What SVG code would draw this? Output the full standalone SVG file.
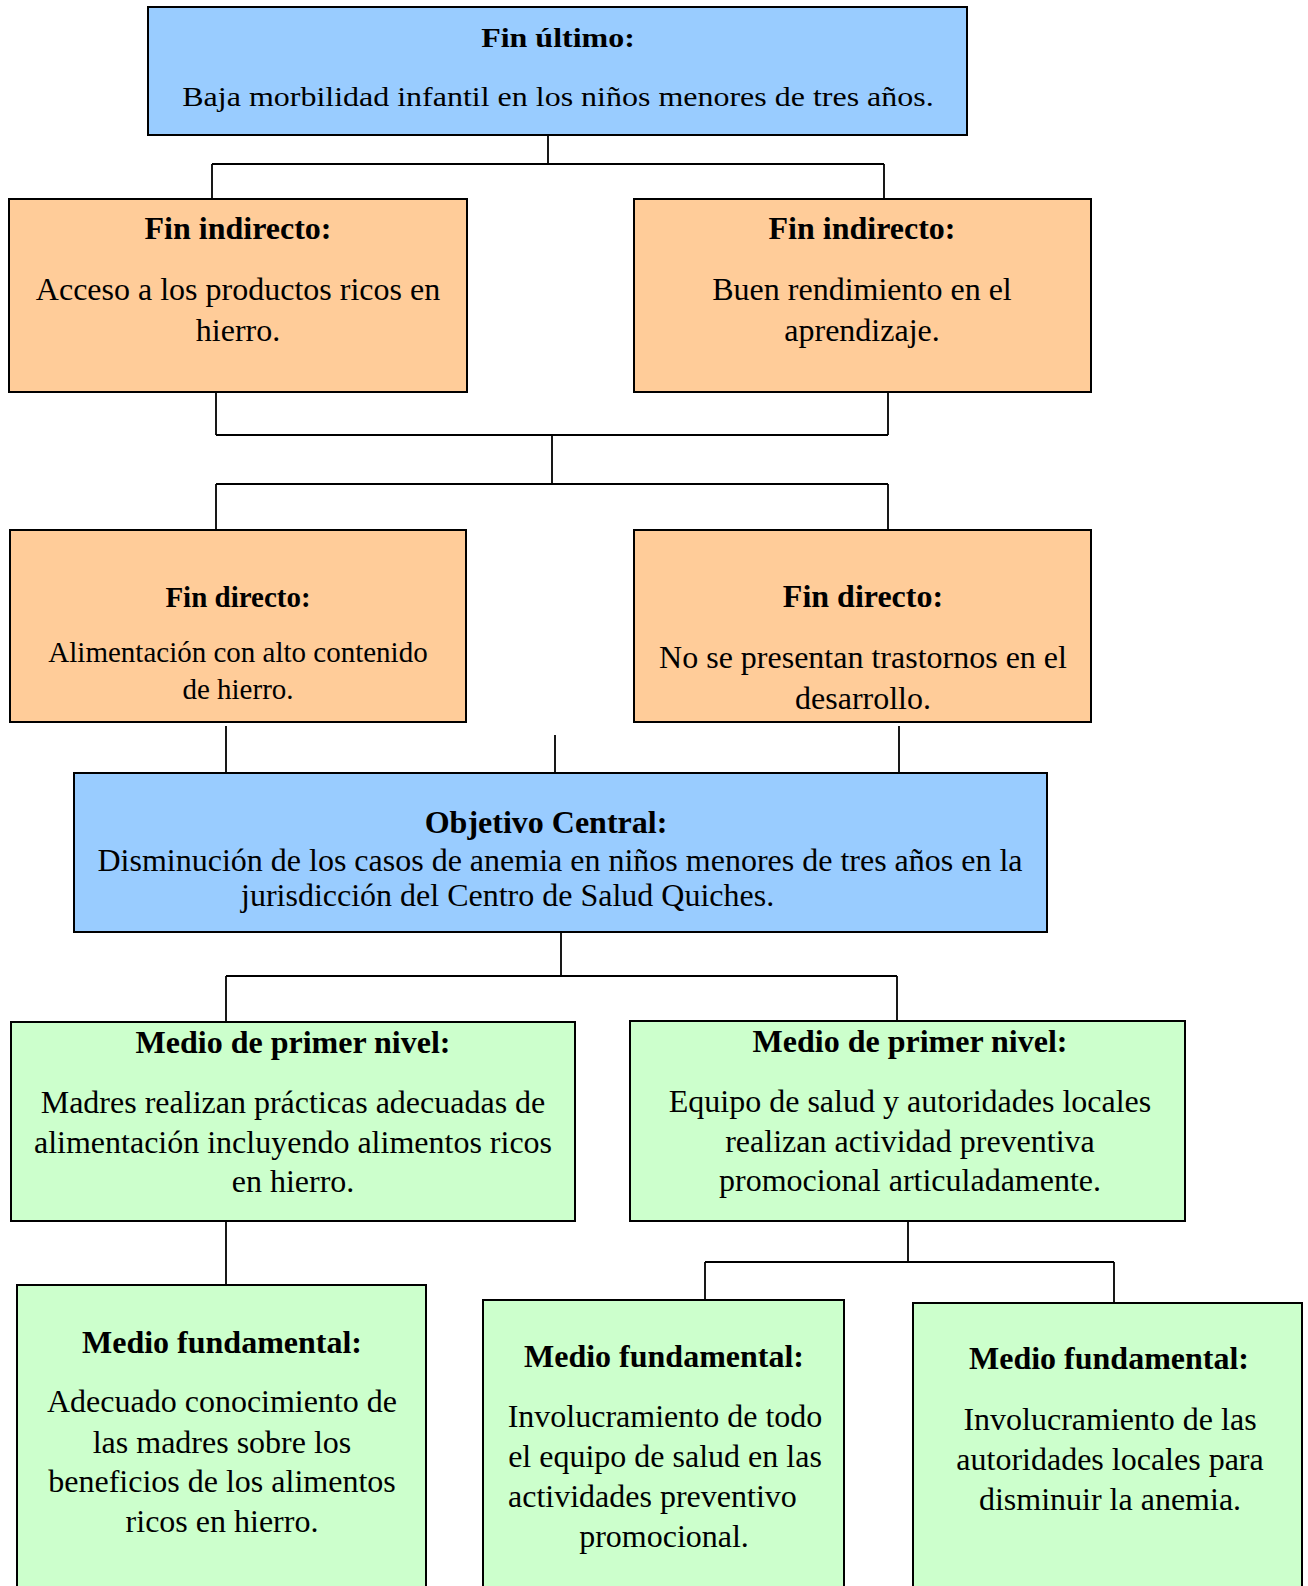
<svg xmlns="http://www.w3.org/2000/svg" width="1308" height="1586" viewBox="0 0 1308 1586">
<style>
.box{stroke:#000;stroke-width:2}
.blue{fill:#99CCFF}
.orange{fill:#FFCC99}
.green{fill:#CCFFCC}
text{font-family:"Liberation Serif","Times New Roman",serif;font-size:32px;fill:#000;text-anchor:middle}
.t{font-weight:bold}
.s{font-size:29px}
.st{text-anchor:start}
.conn path{fill:none;stroke:#000;stroke-width:1.8}
</style>
<rect width="1308" height="1586" fill="#fff"/>
<g class="conn" id="connectors">
<path d="M548 135V164M212 164H884M212 164V199M884 164V199"/>
<path d="M216 388V435M888 388V435M216 435H888M552 435V484M216 484H888M216 484V530M888 484V530"/>
<path d="M226 726V773M555 735V773M899 726V773"/>
<path d="M561 928V976M226 976H897M226 976V1022M897 976V1021"/>
<path d="M226 1221V1285"/>
<path d="M908 1221V1262M705 1262H1114M705 1262V1300M1114 1262V1303"/>
</g>
<g id="fin-ultimo">
<rect class="box blue" x="148" y="7" width="819" height="128"/>
<text class="t" transform="translate(558,47) scale(1,0.86)" x="0" y="0">Fin último:</text>
<text transform="translate(558,106) scale(1,0.86)" x="0" y="0">Baja morbilidad infantil en los niños menores de tres años.</text>
</g>
<g id="fin-indirecto-1">
<rect class="box orange" x="9" y="199" width="458" height="193"/>
<text class="t" x="238" y="239">Fin indirecto:</text>
<text x="238" y="300">Acceso a los productos ricos en</text>
<text x="238" y="341">hierro.</text>
</g>
<g id="fin-indirecto-2">
<rect class="box orange" x="634" y="199" width="457" height="193"/>
<text class="t" x="862" y="239">Fin indirecto:</text>
<text x="862" y="300">Buen rendimiento en el</text>
<text x="862" y="341">aprendizaje.</text>
</g>
<g id="fin-directo-1">
<rect class="box orange" x="10" y="530" width="456" height="192"/>
<text class="t s" x="238" y="607">Fin directo:</text>
<text class="s" x="238" y="662">Alimentación con alto contenido</text>
<text class="s" x="238" y="699">de hierro.</text>
</g>
<g id="fin-directo-2">
<rect class="box orange" x="634" y="530" width="457" height="192"/>
<text class="t" x="863" y="607">Fin directo:</text>
<text x="863" y="668">No se presentan trastornos en el</text>
<text x="863" y="709">desarrollo.</text>
</g>
<g id="objetivo-central">
<rect class="box blue" x="74" y="773" width="973" height="159"/>
<text class="t" x="546" y="833">Objetivo Central:</text>
<text x="560" y="871">Disminución de los casos de anemia en niños menores de tres años en la</text>
<text class="st" x="241" y="906">jurisdicción del Centro de Salud Quiches.</text>
</g>
<g id="medio-primer-1">
<rect class="box green" x="11" y="1022" width="564" height="199"/>
<text class="t" x="293" y="1053">Medio de primer nivel:</text>
<text x="293" y="1113">Madres realizan prácticas adecuadas de</text>
<text x="293" y="1153">alimentación incluyendo alimentos ricos</text>
<text x="293" y="1192">en hierro.</text>
</g>
<g id="medio-primer-2">
<rect class="box green" x="630" y="1021" width="555" height="200"/>
<text class="t" x="910" y="1052">Medio de primer nivel:</text>
<text x="910" y="1112">Equipo de salud y autoridades locales</text>
<text x="910" y="1152">realizan actividad preventiva</text>
<text x="910" y="1191">promocional articuladamente.</text>
</g>
<g id="medio-fundamental-1">
<rect class="box green" x="17" y="1285" width="409" height="320"/>
<text class="t" x="222" y="1353">Medio fundamental:</text>
<text x="222" y="1412">Adecuado conocimiento de</text>
<text x="222" y="1453">las madres sobre los</text>
<text x="222" y="1492">beneficios de los alimentos</text>
<text x="222" y="1532">ricos en hierro.</text>
</g>
<g id="medio-fundamental-2">
<rect class="box green" x="483" y="1300" width="361" height="310"/>
<text class="t" x="664" y="1367">Medio fundamental:</text>
<text x="665" y="1427">Involucramiento de todo</text>
<text x="665" y="1467">el equipo de salud en las</text>
<text class="st" x="508" y="1507">actividades preventivo</text>
<text x="664" y="1547">promocional.</text>
</g>
<g id="medio-fundamental-3">
<rect class="box green" x="913" y="1303" width="389" height="310"/>
<text class="t" x="1109" y="1369">Medio fundamental:</text>
<text x="1110" y="1430">Involucramiento de las</text>
<text x="1110" y="1470">autoridades locales para</text>
<text x="1110" y="1510">disminuir la anemia.</text>
</g>
</svg>
